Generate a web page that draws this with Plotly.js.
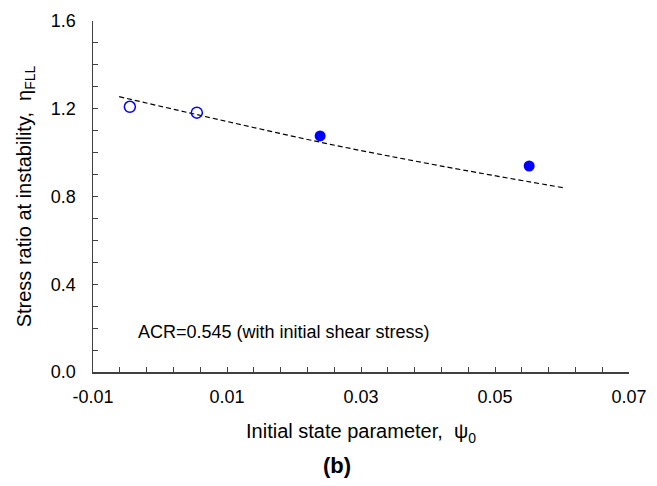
<!DOCTYPE html>
<html>
<head>
<meta charset="utf-8">
<script src="https://cdn.plot.ly/plotly-3.0.1.min.js"></script>
<style>html,body{margin:0;padding:0;background:#fff;}#chart{width:657px;height:486px;}</style>
</head>
<body>
<div id="chart"></div>
<script>
// Open circles and filled circles
var openX = [-0.0045, 0.0055];
var openY = [1.209, 1.182];
var filledX = [0.0239, 0.0551];
var filledY = [1.076, 0.939];
// Trend line points
var trendX = [-0.0061, 0.0090, 0.0254, 0.0418, 0.0602];
var trendY = [1.255, 1.149, 1.038, 0.940, 0.840];

var xTickVals = [-0.01, 0.01, 0.03, 0.05, 0.07];
var xTickText = ['-0.01', '0.01', '0.03', '0.05', '0.07'];
var yTickVals = [0, 0.4, 0.8, 1.2, 1.6];
var yTickText = ['0.0', '0.4', '0.8', '1.2', '1.6'];

var traces = [
  {x: trendX, y: trendY, mode: 'lines', line: {shape: 'spline', color: '#000', width: 1.2, dash: '5px,3px'}, hoverinfo: 'skip'},
  {x: openX, y: openY, mode: 'markers', marker: {symbol: 'circle-open', size: 11, color: '#0000FF', line: {width: 1.5, color: '#0000FF'}}},
  {x: filledX, y: filledY, mode: 'markers', marker: {symbol: 'circle', size: 11, color: '#0000FF'}}
];

var font = {family: 'Liberation Sans, Arial, sans-serif', color: '#000'};
var layout = {
  width: 657, height: 486,
  margin: {l: 93, r: 28, t: 21, b: 114},
  showlegend: false,
  paper_bgcolor: '#fff', plot_bgcolor: '#fff',
  font: font,
  xaxis: {
    range: [-0.01, 0.07], showgrid: false, zeroline: false,
    showline: true, linecolor: '#404040', linewidth: 1.5, mirror: false,
    ticks: 'inside', ticklen: 5, tickcolor: '#404040', tickwidth: 1,
    tickvals: xTickVals, ticktext: xTickText,
    tickfont: {family: font.family, size: 18, color: '#000'},
    ticklabelstandoff: 8,
    minor: {dtick: 0.004, tick0: -0.01, ticks: 'inside', ticklen: 5, tickcolor: '#404040', tickwidth: 1, showgrid: false},
    title: {text: 'Initial state parameter,  ψ<sub>0</sub>', font: {family: font.family, size: 20, color: '#000'}, standoff: 18}
  },
  yaxis: {
    range: [0, 1.6], showgrid: false, zeroline: false,
    showline: true, linecolor: '#404040', linewidth: 1.5,
    ticks: 'inside', ticklen: 5, tickcolor: '#404040', tickwidth: 1,
    tickvals: yTickVals, ticktext: yTickText,
    tickfont: {family: font.family, size: 18, color: '#000'},
    ticklabelstandoff: 12,
    minor: {dtick: 0.1, tick0: 0, ticks: 'inside', ticklen: 5, tickcolor: '#404040', tickwidth: 1, showgrid: false},
    title: {text: 'Stress ratio at instability,  η<sub>FLL</sub>', font: {family: font.family, size: 20, color: '#000'}, standoff: 14}
  },
  annotations: [
    {text: 'ACR=0.545 (with initial shear stress)', xref: 'paper', yref: 'paper', x: 0.081, y: 0.115, xanchor: 'left', yanchor: 'middle', showarrow: false, font: {family: font.family, size: 18, color: '#000'}},
    {text: '<b>(b)</b>', xref: 'paper', yref: 'paper', x: 0.455, y: -0.265, xanchor: 'center', yanchor: 'middle', showarrow: false, font: {family: font.family, size: 22, color: '#000'}}
  ]
};
Plotly.newPlot('chart', traces, layout, {displayModeBar: false, staticPlot: true});
</script>
</body>
</html>
